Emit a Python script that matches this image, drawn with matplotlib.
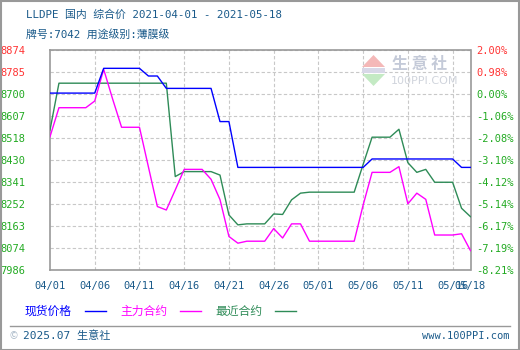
import numpy as np
import pandas as pd
import matplotlib
matplotlib.use("Agg")
import matplotlib.pyplot as plt
from matplotlib.patches import Rectangle, Polygon

plt.rcParams['font.family'] = ['Noto Sans CJK SC', 'DejaVu Sans']
mono_cjk = ['DejaVu Sans Mono', 'Noto Sans CJK SC']

# data, one value per calendar day 04/01 .. 05/18
dates = pd.date_range('2021-04-01', '2021-05-18', freq='D')
spot = [8700, 8700, 8700, 8700, 8700, 8700, 8800, 8800, 8800, 8800,
        8800, 8769, 8769, 8719, 8719, 8719, 8719, 8719, 8719, 8585,
        8585, 8400, 8400, 8400, 8400, 8400, 8400, 8400, 8400, 8400,
        8400, 8400, 8400, 8400, 8400, 8400, 8434, 8434, 8434, 8434,
        8434, 8434, 8434, 8434, 8434, 8434, 8400, 8400]
main = [8524, 8641, 8641, 8641, 8641, 8668, 8796, 8676, 8562, 8562,
        8562, 8402, 8242, 8228, 8309, 8392, 8392, 8392, 8352, 8270,
        8121, 8094, 8102, 8102, 8102, 8153, 8115, 8172, 8172, 8102,
        8102, 8102, 8102, 8102, 8102, 8248, 8380, 8380, 8380, 8403,
        8253, 8296, 8271, 8127, 8127, 8127, 8132, 8064]
near = [8551, 8740, 8740, 8740, 8740, 8740, 8740, 8740, 8740, 8740,
        8740, 8740, 8740, 8740, 8363, 8383, 8383, 8383, 8383, 8369,
        8208, 8168, 8172, 8172, 8172, 8212, 8210, 8269, 8296, 8300,
        8300, 8300, 8300, 8300, 8300, 8412, 8522, 8522, 8522, 8554,
        8419, 8380, 8392, 8340, 8340, 8340, 8235, 8201]
base = 8700
left_labels = ['8874', '8785', '8700', '8607', '8518', '8430', '8341', '8252', '8163', '8074', '7986']
right_labels = ['2.00%', '0.98%', '0.00%', '-1.06%', '-2.08%', '-3.10%', '-4.12%', '-5.14%', '-6.17%', '-7.19%', '-8.21%']
legend_names = ['现货价格', '主力合约', '最近合约']
colors = ['#0000ff', '#ff00ff', '#2e8b57']

W, H = 520, 350
fig = plt.figure(figsize=(W / 100, H / 100), dpi=100)
ax = fig.add_axes([50 / W, (H - 270) / H, 420.5 / W, 220 / H])

x = np.arange(len(dates))
ymax = base * 1.02
ymin = base * (1 - 0.0821)
yt = np.linspace(ymax, ymin, 11)

for yv in yt:
    if abs(yv - base) < 1:
        ax.axhline(yv, color='#999999', lw=1.3, zorder=1)
    else:
        ax.axhline(yv, color='#c8c8c8', lw=0.8, ls=(0, (3, 2)), zorder=1)
xt = list(range(0, len(dates), 5)) + [len(dates) - 1]
for xv in xt[1:-1]:
    ax.axvline(xv, color='#c8c8c8', lw=0.8, ls=(0, (3, 2)), zorder=1)

ax.plot(x, near, color=colors[2], lw=1, zorder=3)
ax.plot(x, main, color=colors[1], lw=1, zorder=3)
ax.plot(x, spot, color=colors[0], lw=1, zorder=4)

ax.set_xlim(0, len(dates) - 1)
ax.set_ylim(ymin, ymax)
ax.set_yticks(yt)
ax.set_yticklabels(left_labels, family=['DejaVu Sans Mono'])
ax.set_xticks(xt)
ax.set_xticklabels([d.strftime('%m/%d') for d in dates[xt]], family=['DejaVu Sans Mono'])
for s in ax.spines.values():
    s.set_color('#999999')
    s.set_linewidth(1.2)

ax.tick_params(axis='both', length=0, labelsize=7.5)
ax.tick_params(axis='x', pad=8, labelcolor='#1a5a8a')
for lab in ax.get_yticklabels():
    lab.set_horizontalalignment('left')
    lab.set_x(-45 / 420.5)

ax2 = ax.twinx()
ax2.set_ylim(ymin, ymax)
ax2.set_yticks(yt)
ax2.set_yticklabels(right_labels, family=['DejaVu Sans Mono'])
ax2.tick_params(axis='y', length=0, labelsize=7.5, pad=4)
for s in ax2.spines.values():
    s.set_visible(False)


def tick_color(v):
    if abs(v - base) < 1:
        return '#a0a0a0'
    return '#ff3333' if v > base else '#22aa22'


for lab, v in zip(ax.get_yticklabels(), yt):
    lab.set_color(tick_color(v))
for lab, v in zip(ax2.get_yticklabels(), yt):
    lab.set_color(tick_color(v))

# watermark
tri_up = Polygon([[362, H - 67], [385, H - 67], [373.5, H - 55]], closed=True,
                 facecolor='#f4b8b8', edgecolor='none', transform=None, zorder=2)
tri_dn = Polygon([[362, H - 74], [385, H - 74], [373.5, H - 86]], closed=True,
                 facecolor='#c4eac4', edgecolor='none', transform=None, zorder=2)
fig.patches.extend([tri_up, tri_dn])
fig.patches.append(Rectangle((362 / W, (H - 73) / H), 23 / W, 5 / H, transform=fig.transFigure,
                             facecolor='#d8d8e8', edgecolor='none'))
fig.text(392 / W, 1 - 64 / H, '生 意 社', fontsize=11.5, color='#c4cad8', va='center', ha='left', fontweight='bold')
fig.text(391 / W, 1 - 81 / H, '100PPI.COM', fontsize=8, color='#d0d4dc', va='center', ha='left',
         family=['DejaVu Sans'])

# title
tc = '#1a5a8a'
fig.text(26 / W, 1 - 15 / H, 'LLDPE 国内 综合价 2021-04-01 - 2021-05-18', fontsize=7.8, color=tc,
         va='center', family=mono_cjk)
fig.text(26 / W, 1 - 34 / H, '牌号:7042 用途级别:薄膜级', fontsize=7.8, color=tc, va='center', family=mono_cjk)

# legend
lx = [25, 120, 215]
for name, c, x0 in zip(legend_names, colors, lx):
    fig.text(x0 / W, 1 - 311 / H, name, fontsize=8.5, color=c, va='center')
    fig.lines.append(plt.Line2D([(x0 + 60) / W, (x0 + 81) / W], [1 - 311 / H, 1 - 311 / H],
                                transform=fig.transFigure, color=c, lw=1))

# footer
fig.lines.append(plt.Line2D([10 / W, 510 / W], [1 - 326 / H, 1 - 326 / H],
                            transform=fig.transFigure, color='#999999', lw=1))
fig.text(10 / W, 1 - 336 / H, '©', fontsize=7, color='#a8b8c8', va='center')
fig.text(23 / W, 1 - 336 / H, '2025.07 生意社', fontsize=8, color=tc, va='center', family=mono_cjk)
fig.text(510 / W, 1 - 336 / H, 'www.100PPI.com', fontsize=7.5, color=tc, va='center', ha='right',
         family=['DejaVu Sans Mono'])

fig.patches.append(Rectangle((0.5 / W, 0.5 / H), (W - 1.5) / W, (H - 1.5) / H, transform=fig.transFigure,
                             facecolor='none', edgecolor='#999999', lw=1.5))

fig.savefig('out.png', dpi=100)
